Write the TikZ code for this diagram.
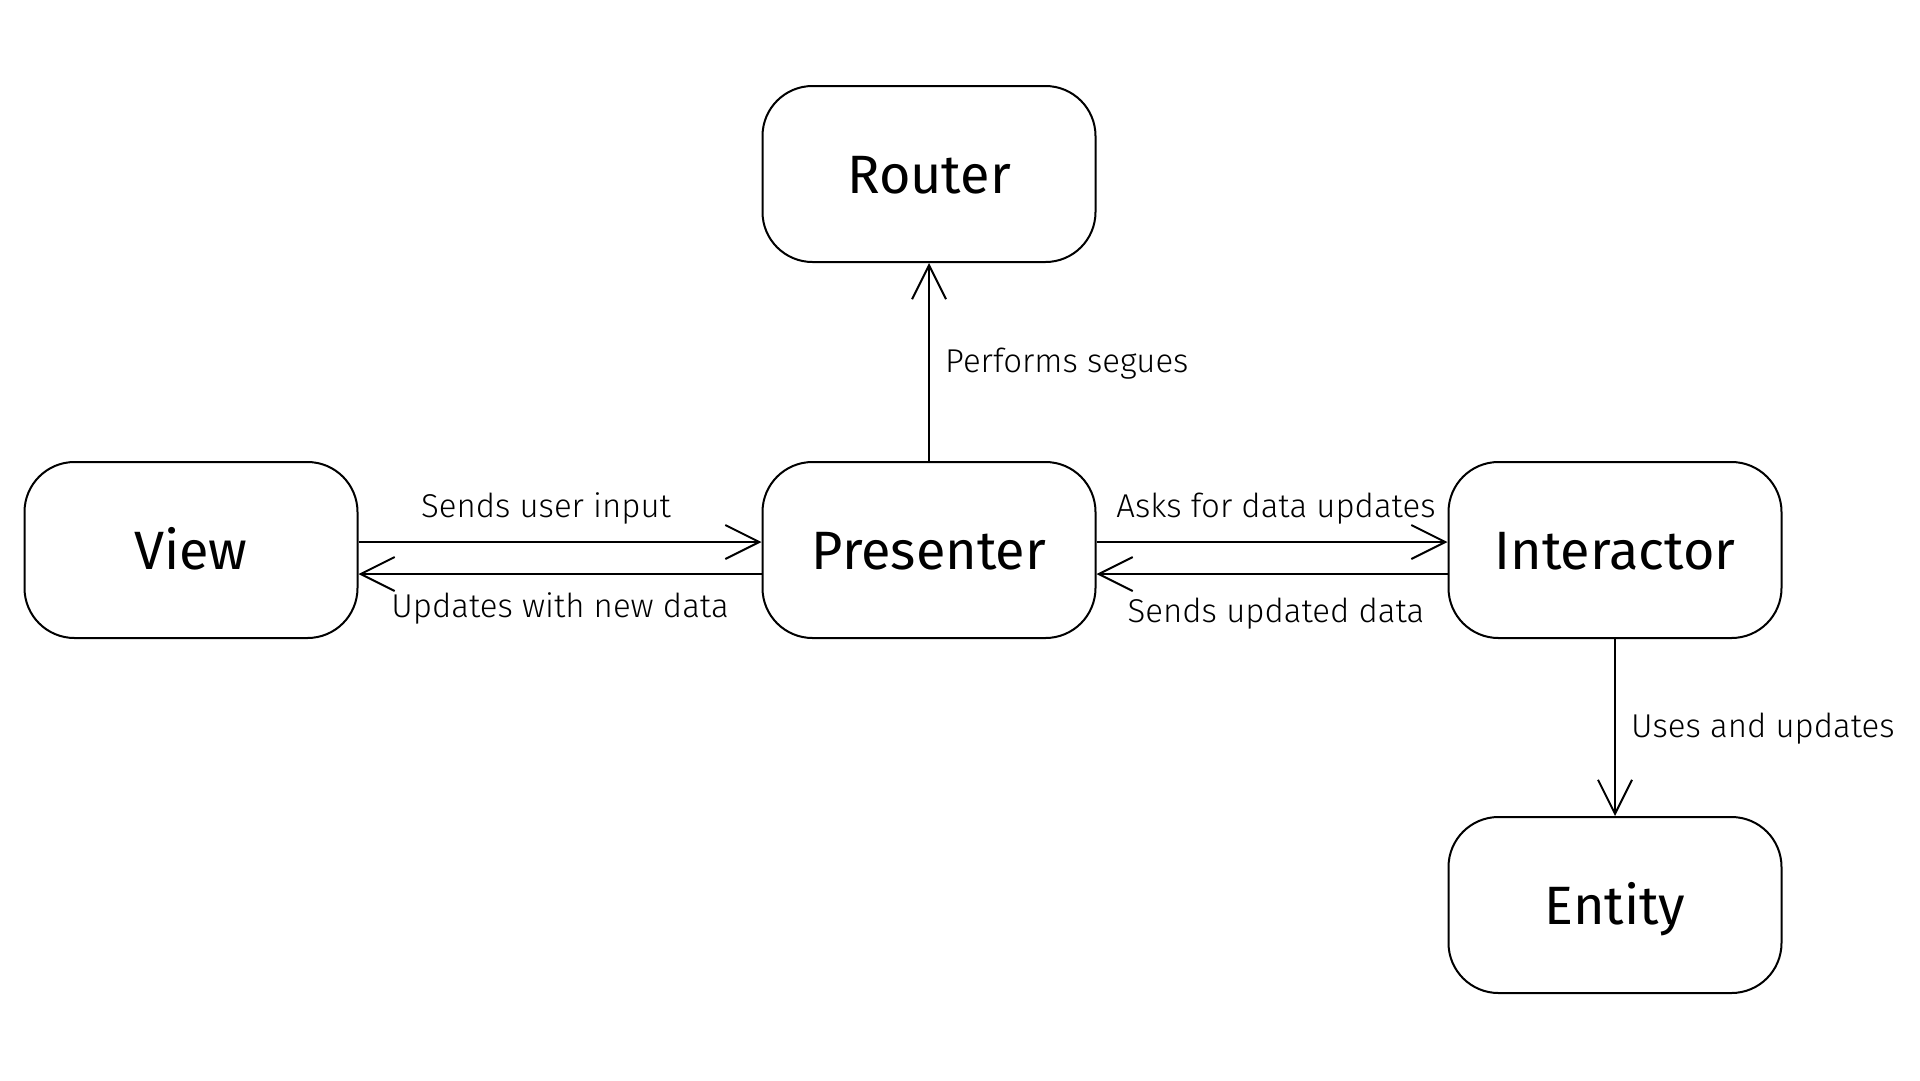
\documentclass[tikz,border=0pt]{standalone}
\usepackage{fontspec}
\setmainfont{Fira Sans}
\newfontfamily\lightfont{Fira Sans Light}
\usetikzlibrary{arrows.meta}
\tikzset{
  box/.style={draw=black, line width=2pt, rounded corners=50pt,
    minimum width=333pt, minimum height=176pt, inner sep=0pt,
    text height=38pt, text depth=0pt,
    font=\fontsize{54}{60}\selectfont},
  lbl/.style={inner sep=0pt, font=\lightfont\fontsize{33}{38}\selectfont},
  conn/.style={line width=2pt, -{Straight Barb[length=34pt,width=34pt,line width=2pt]}}
}
\begin{document}
\begin{tikzpicture}[x=1pt,y=-1pt]
\useasboundingbox (0,0) rectangle (1920,1080);
\node[box] (router) at (929,174) {Router};
\node[box] (view) at (191,550) {View};
\node[box] (presenter) at (929,550) {Presenter};
\node[box] (interactor) at (1615,550) {Interactor};
\node[box] (entity) at (1615,905) {Entity};
\coordinate (yU) at (0,542);
\coordinate (yL) at (0,574);
\draw[conn] (presenter.north) -- (router.south);
\draw[conn] (view.east |- yU) -- (presenter.west |- yU);
\draw[conn] (presenter.west |- yL) -- (view.east |- yL);
\draw[conn] (presenter.east |- yU) -- (interactor.west |- yU);
\draw[conn] (interactor.west |- yL) -- (presenter.east |- yL);
\draw[conn] (interactor.south) -- (entity.north);
\node[lbl, anchor=base] (l1) at (546,517) {Sends user input};
\node[lbl, anchor=base] (l2) at (560,617) {Updates with new data};
\node[lbl, anchor=base] (l3) at (1276,517) {Asks for data updates};
\node[lbl, anchor=base] (l4) at (1276,622) {Sends updated data};
\node[lbl, anchor=base west] (l5) at (945,372) {Performs segues};
\node[lbl, anchor=base west] (l6) at (1631,737) {Uses and updates};
\end{tikzpicture}
\end{document}
